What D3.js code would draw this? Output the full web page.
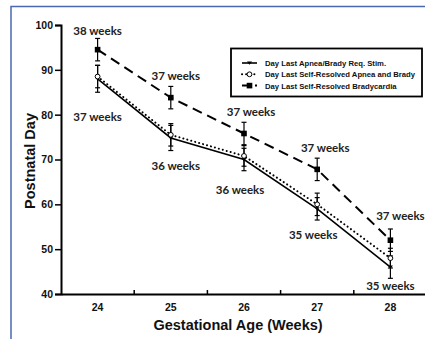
<!DOCTYPE html>
<html><head><meta charset="utf-8">
<script src="https://cdn.jsdelivr.net/npm/d3@7"></script>
<style>
html,body{margin:0;padding:0;background:#fff;}
svg{display:block;}
</style></head>
<body>
<script>
const categories = [24, 25, 26, 27, 28];
const reqStim = [88, 74.8, 70, 59, 46];
const reqStimErr = [3, 2.8, 2.5, 2.5, 2.5];
const selfApneaBrady = [88.5, 75.5, 70.8, 60, 48];
const selfApneaBradyErr = [2.5, 2.5, 2.3, 2.5, 2.2];
const selfBrady = [94.5, 83.8, 75.8, 67.8, 52];
const selfBradyErr = [2.5, 2.5, 2.5, 2.5, 2.5];
const yTicks = [40, 50, 60, 70, 80, 90, 100];
const seriesNames = ["Day Last Apnea/Brady Req. Stim.", "Day Last Self-Resolved Apnea and Brady", "Day Last Self-Resolved Bradycardia"];
const upperLabels = ["38 weeks", "37 weeks", "37 weeks", "37 weeks", "37 weeks"];
const lowerLabels = ["37 weeks", "36 weeks", "36 weeks", "35 weeks", "35 weeks"];

const W = 425, H = 339;
const svg = d3.select("body").append("svg").attr("width", W).attr("height", H);

// blue frame
svg.append("path").attr("d", "M11,339 V6.5 H425").attr("fill", "none")
  .attr("stroke", "#4a68b0").attr("stroke-width", 1.5);

const x = d3.scaleBand().domain(categories).range([61, 427]);
const y = d3.scaleLinear().domain([40, 100]).range([294, 25]);
const cx = d => x(d) + x.bandwidth() / 2;

// y axis
const ya = svg.append("g").attr("transform", "translate(61,0)")
  .call(d3.axisLeft(y).tickValues(yTicks).tickSize(6).tickPadding(2).tickFormat(d3.format("d")));
ya.select(".domain").attr("stroke-width", 2);
ya.selectAll(".tick line").attr("stroke-width", 1.5);
ya.selectAll("text").attr("font-family", "Liberation Sans, Arial").attr("font-weight", "bold").attr("font-size", 10.5).attr("fill", "#111");

// x axis
const xa = svg.append("g").attr("transform", "translate(0,294)")
  .call(d3.axisBottom(x).tickSize(0).tickPadding(10).tickSizeOuter(0));
xa.select(".domain").attr("stroke-width", 2);
xa.selectAll("text").attr("font-family", "Liberation Sans, Arial").attr("font-weight", "bold").attr("font-size", 10.5).attr("fill", "#111");
xa.selectAll(".bound").data(categories.slice(0, -1)).enter().append("line")
  .attr("x1", d => x(d) + x.bandwidth()).attr("x2", d => x(d) + x.bandwidth())
  .attr("y1", 0).attr("y2", -4).attr("stroke", "#000").attr("stroke-width", 1.5);

// axis titles
svg.append("text").attr("transform", "translate(35,161) rotate(-90)").attr("text-anchor", "middle")
  .attr("font-family", "Liberation Sans, Arial").attr("font-weight", "bold").attr("font-size", 14.5).attr("fill", "#111")
  .text("Postnatal Day");
svg.append("text").attr("x", 238).attr("y", 330).attr("text-anchor", "middle")
  .attr("font-family", "Liberation Sans, Arial").attr("font-weight", "bold").attr("font-size", 14.5).attr("fill", "#111")
  .text("Gestational Age (Weeks)");

const series = [
  {vals: reqStim, err: reqStimErr, dash: null, width: 1.6, marker: "tri"},
  {vals: selfApneaBrady, err: selfApneaBradyErr, dash: "0.1,4", width: 2, marker: "circle"},
  {vals: selfBrady, err: selfBradyErr, dash: "10,6", width: 2, marker: "square"}
];

const line = d3.line().x((d, i) => cx(categories[i])).y(d => y(d));

function drawMarker(g, type, px, py) {
  if (type === "square") {
    g.append("rect").attr("x", px - 2.8).attr("y", py - 2.8).attr("width", 5.6).attr("height", 5.6).attr("fill", "#000");
  } else if (type === "circle") {
    g.append("circle").attr("cx", px).attr("cy", py).attr("r", 2.4).attr("fill", "#fff").attr("stroke", "#000").attr("stroke-width", 1);
  } else {
    g.append("path").attr("d", `M${px - 2.5},${py - 1.6} L${px + 2.5},${py - 1.6} L${px},${py + 1.8} Z`).attr("fill", "#000");
  }
}

series.forEach(s => {
  const g = svg.append("g");
  g.append("path").datum(s.vals).attr("d", line).attr("fill", "none").attr("stroke", "#000")
    .attr("stroke-width", s.width).attr("stroke-dasharray", s.dash).attr("stroke-linecap", s.dash && s.dash.startsWith("0.1") ? "round" : "butt");
  s.vals.forEach((v, i) => {
    const px = cx(categories[i]);
    const y1 = y(v + s.err[i]), y2 = y(v - s.err[i]);
    g.append("line").attr("x1", px).attr("x2", px).attr("y1", y1).attr("y2", y2).attr("stroke", "#000").attr("stroke-width", 1.2);
    [y1, y2].forEach(yy => g.append("line").attr("x1", px - 2.5).attr("x2", px + 2.5).attr("y1", yy).attr("y2", yy).attr("stroke", "#000").attr("stroke-width", 1.2));
    drawMarker(g, s.marker, px, y(v));
  });
});

// annotations
const labFont = "Lato, 'Open Sans', sans-serif";
const upperPos = [[0, -15], [5, -18], [7, -17], [8, -17.5], [10, -20]];
const lowerPos = [[0, 42], [5, 32], [-4, 34.5], [-4, 30], [0, 23]];
upperLabels.forEach((t, i) => {
  svg.append("text").attr("x", cx(categories[i]) + upperPos[i][0]).attr("y", y(selfBrady[i]) + upperPos[i][1])
    .attr("text-anchor", "middle").attr("font-family", labFont).attr("font-weight", "bold").attr("font-size", 11.5).attr("fill", "#222").text(t);
});
lowerLabels.forEach((t, i) => {
  svg.append("text").attr("x", cx(categories[i]) + lowerPos[i][0]).attr("y", y(reqStim[i]) + lowerPos[i][1])
    .attr("text-anchor", "middle").attr("font-family", labFont).attr("font-weight", "bold").attr("font-size", 11.5).attr("fill", "#222").text(t);
});

// legend
const lg = svg.append("g");
lg.append("rect").attr("x", 231).attr("y", 48.5).attr("width", 191).attr("height", 48)
  .attr("fill", "#fff").attr("stroke", "#000").attr("stroke-width", 1.8);
series.forEach((s, i) => {
  const ly = 63 + i * 11.3;
  lg.append("line").attr("x1", 242).attr("x2", 257).attr("y1", ly).attr("y2", ly).attr("stroke", "#000")
    .attr("stroke-width", s.width).attr("stroke-dasharray", s.marker === "circle" ? "0.1,4" : (s.marker === "square" ? "9,4" : null))
    .attr("stroke-linecap", s.marker === "circle" ? "round" : "butt");
  drawMarker(lg, s.marker, 249.5, ly);
  lg.append("text").attr("x", 265).attr("y", ly + 3).attr("font-family", "Liberation Sans, Arial").attr("font-weight", "bold")
    .attr("font-size", 7.7).attr("fill", "#111").text(seriesNames[i]);
});
</script>
</body></html>
